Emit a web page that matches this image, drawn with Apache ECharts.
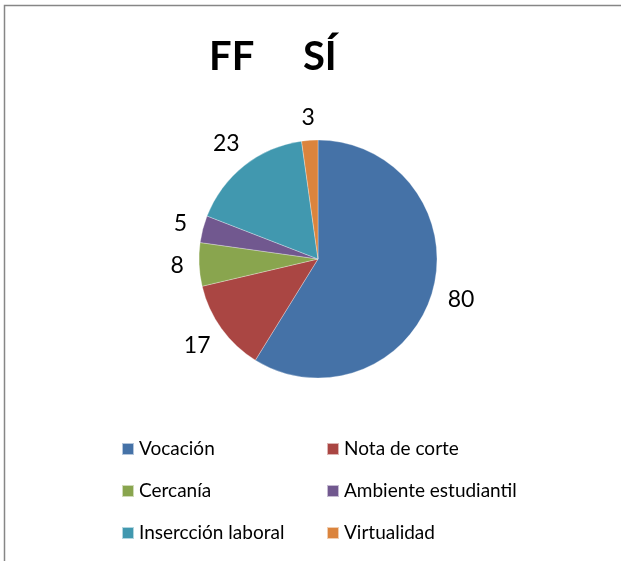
<!DOCTYPE html>
<html>
<head>
<meta charset="utf-8">
<script src="https://cdn.jsdelivr.net/npm/echarts@6/dist/echarts.min.js"></script>
<style>
  html, body { margin: 0; padding: 0; background: #fff; }
  #chart { width: 621px; height: 561px; }
</style>
</head>
<body>
<div id="chart"></div>
<script>
// datos
var categories = ['Vocación', 'Nota de corte', 'Cercanía', 'Ambiente estudiantil', 'Insercción laboral', 'Virtualidad']
var values = [80, 17, 8, 5, 23, 3]
var colors = ['#4572A7', '#AA4643', '#89A54E', '#71588F', '#4198AF', '#DB843D']
var titleText = 'FF     SÍ'

var font = 'Lato, "Open Sans", sans-serif'
var pieCenter = [318, 259]
var pieRadius = 119
var labelGap = 15 // separación entre el borde del pastel y la etiqueta

var pieData = categories.map(function(name, i) {
  return { name: name, value: values[i], itemStyle: { color: colors[i] } }
})

var chart = echarts.init(document.getElementById('chart'))
chart.setOption({
  animation: false,
  title: {
    text: titleText,
    left: 204,
    top: 32,
    textStyle: { fontFamily: font, fontSize: 40, fontWeight: 'bold', color: '#000' }
  },
  graphic: [{
    type: 'rect',
    shape: { x: 4.5, y: 5.5, width: 800, height: 800 },
    style: { fill: 'none', stroke: '#868686', lineWidth: 1.5 },
    silent: true
  }],
  legend: [
    {
      orient: 'vertical',
      left: 121,
      top: 439,
      padding: 0,
      itemWidth: 12,
      itemHeight: 12,
      itemGap: 22,
      icon: 'rect',
      data: [categories[0], categories[2], categories[4]],
      textStyle: { fontFamily: font, fontSize: 19, color: '#000', lineHeight: 20 }
    },
    {
      orient: 'vertical',
      left: 326,
      top: 439,
      padding: 0,
      itemWidth: 12,
      itemHeight: 12,
      itemGap: 22,
      icon: 'rect',
      data: [categories[1], categories[3], categories[5]],
      textStyle: { fontFamily: font, fontSize: 19, color: '#000', lineHeight: 20 }
    }
  ],
  series: [
    {
      name: 'FF SÍ',
      type: 'pie',
      center: pieCenter,
      radius: pieRadius,
      startAngle: 90,
      clockwise: true,
      silent: true,
      label: { show: false },
      labelLine: { show: false },
      itemStyle: { borderColor: 'rgba(255,255,255,0.6)', borderWidth: 0.5 },
      data: pieData
    },
    {
      // anillo invisible solo para colocar las etiquetas fuera del pastel
      name: 'etiquetas',
      type: 'pie',
      center: pieCenter,
      radius: [pieRadius, pieRadius + 58],
      startAngle: 90,
      clockwise: true,
      silent: true,
      itemStyle: { color: 'rgba(0,0,0,0)' },
      label: {
        show: true,
        position: 'inside',
        formatter: '{c}',
        fontFamily: font,
        fontSize: 23,
        color: '#000'
      },
      labelLine: { show: false },
      // como Excel: el borde del texto queda a una distancia fija del pastel
      labelLayout: function(params) {
        var r = params.labelRect
        var cx = r.x + r.width / 2
        var cy = r.y + r.height / 2
        var dx = cx - pieCenter[0]
        var dy = cy - pieCenter[1]
        var len = Math.sqrt(dx * dx + dy * dy)
        var ux = dx / len
        var uy = dy / len
        var halfW = r.width / 2
        var halfH = r.height * 0.3
        var d = pieRadius + labelGap + halfW * Math.abs(ux) + halfH * Math.abs(uy)
        return {
          x: pieCenter[0] + ux * d,
          y: pieCenter[1] + uy * d,
          align: 'center',
          verticalAlign: 'middle'
        }
      },
      data: categories.map(function(name, i) { return { name: name, value: values[i] } })
    }
  ]
})
</script>
</body>
</html>
